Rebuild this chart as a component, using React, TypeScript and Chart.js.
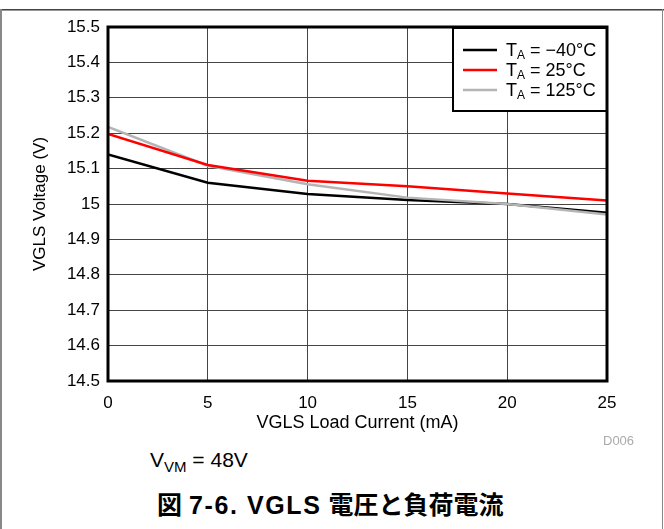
import React, { useEffect, useRef } from "react";
import { Chart, registerables } from "chart.js";

Chart.register(...registerables);

const loadCurrent = [0, 5, 10, 15, 20, 25];
const vMinus40 = [15.14, 15.06, 15.028, 15.011, 15.0, 14.975];
const v25 = [15.198, 15.11, 15.066, 15.05, 15.03, 15.01];
const v125 = [15.218, 15.108, 15.056, 15.018, 15.0, 14.97];
const seriesLabels = ["= \u221240\u00B0C", "= 25\u00B0C", "= 125\u00B0C"];
const seriesColors = ["#000000", "#ff0000", "#b4b4b4"];

const FONT = "'Liberation Sans', Arial, sans-serif";

const framePlugin = {
  id: "frameAndLegend",
  afterDatasetsDraw(chart: any) {
    const { ctx, chartArea } = chart;
    const { left, top, right, bottom } = chartArea;
    ctx.save();
    // legend box
    const bx = 453, by = top, bw = right - 453, bh = 84;
    ctx.fillStyle = "#ffffff";
    ctx.fillRect(bx, by, bw, bh);
    ctx.strokeStyle = "#000";
    ctx.lineWidth = 2;
    ctx.strokeRect(bx, by + 1, bw, bh - 1);
    const rows = [50, 70, 90];
    rows.forEach((ry, i) => {
      ctx.strokeStyle = seriesColors[i];
      ctx.lineWidth = 2.5;
      ctx.beginPath();
      ctx.moveTo(463, ry);
      ctx.lineTo(497, ry);
      ctx.stroke();
      ctx.fillStyle = "#000";
      ctx.textBaseline = "alphabetic";
      ctx.textAlign = "left";
      ctx.font = `18px ${FONT}`;
      ctx.fillText("T", 506, ry + 6);
      const tw = ctx.measureText("T").width;
      ctx.font = `12px ${FONT}`;
      ctx.fillText("A", 506 + tw, ry + 9);
      const aw = ctx.measureText("A").width;
      ctx.font = `18px ${FONT}`;
      ctx.fillText(" " + seriesLabels[i], 506 + tw + aw, ry + 6);
    });
    // plot frame
    ctx.strokeStyle = "#000";
    ctx.lineWidth = 3;
    ctx.strokeRect(left, top, right - left, bottom - top);
    ctx.restore();
  },
};

export default function App() {
  const canvasRef = useRef<HTMLCanvasElement | null>(null);

  useEffect(() => {
    const canvas = canvasRef.current;
    if (!canvas) return;
    const mk = (label: string, data: number[], color: string, order: number) => ({
      label,
      data: loadCurrent.map((x, i) => ({ x, y: data[i] })),
      borderColor: color,
      backgroundColor: color,
      borderWidth: 2.5,
      pointRadius: 0,
      tension: 0,
      order,
    });
    const chart = new Chart(canvas, {
      type: "line",
      data: {
        datasets: [
          mk("TA = -40°C", vMinus40, seriesColors[0], 2),
          mk("TA = 25°C", v25, seriesColors[1], 0),
          mk("TA = 125°C", v125, seriesColors[2], 1),
        ],
      },
      options: {
        animation: false,
        responsive: false,
        maintainAspectRatio: false,
        devicePixelRatio: 1,
        layout: { padding: { left: 0, top: 27, right: 57, bottom: 0 } },
        plugins: { legend: { display: false }, tooltip: { enabled: false } },
        scales: {
          x: {
            type: "linear",
            min: 0,
            max: 25,
            afterFit: (s: any) => {
              s.height = 59;
            },
            ticks: {
              stepSize: 5,
              color: "#000",
              padding: 12,
              maxRotation: 0,
              font: { family: FONT, size: 17 },
            },
            grid: { color: "#444", lineWidth: 1, drawTicks: false },
            border: { display: false },
            title: {
              display: true,
              text: "VGLS Load Current (mA)",
              color: "#000",
              font: { family: FONT, size: 18, lineHeight: 1 },
              padding: { top: 0, bottom: 8 },
            },
          },
          y: {
            type: "linear",
            min: 14.5,
            max: 15.5,
            afterFit: (s: any) => {
              s.width = 108;
            },
            ticks: {
              stepSize: 0.1,
              color: "#000",
              padding: 8,
              font: { family: FONT, size: 17 },
              callback: (v: any) => {
                const n = Math.round(Number(v) * 10) / 10;
                return String(n);
              },
            },
            grid: { color: "#444", lineWidth: 1, drawTicks: false },
            border: { display: false },
            title: {
              display: true,
              text: "VGLS Voltage (V)",
              color: "#000",
              font: { family: FONT, size: 17, lineHeight: 1 },
              padding: { top: 32, bottom: 0 },
            },
          },
        },
      },
      plugins: [framePlugin],
    });
    return () => chart.destroy();
  }, []);

  return (
    <div
      style={{
        position: "absolute",
        left: 0,
        top: 0,
        width: 664,
        height: 529,
        background: "#fff",
        overflow: "hidden",
        fontFamily: FONT,
      }}
    >
      <div style={{ position: "absolute", left: 0, top: 9, width: 664, height: 1, background: "#444" }} />
      <div style={{ position: "absolute", left: 0, top: 10, width: 664, height: 1, background: "#999" }} />
      <div style={{ position: "absolute", left: 0, top: 9, width: 2, height: 520, background: "#888" }} />
      <div style={{ position: "absolute", left: 662, top: 9, width: 1, height: 520, background: "#888" }} />
      <canvas
        ref={canvasRef}
        width={664}
        height={440}
        style={{ position: "absolute", left: 0, top: 0, width: 664, height: 440 }}
      />
      <div
        style={{
          position: "absolute",
          left: 603,
          top: 434,
          fontSize: 13,
          color: "#aaa",
          lineHeight: "14px",
        }}
      >
        D006
      </div>
      <div
        style={{
          position: "absolute",
          left: 150,
          top: 448,
          fontSize: 21,
          color: "#000",
          lineHeight: "24px",
          whiteSpace: "nowrap",
        }}
      >
        V<sub style={{ fontSize: 15, verticalAlign: "-5px", lineHeight: 0 }}>VM</sub> = 48V
      </div>
      <div
        style={{
          position: "absolute",
          left: 157,
          top: 490,
          fontSize: 25,
          fontWeight: "bold",
          lineHeight: "30px",
          color: "#000",
          fontFamily: "'Liberation Sans', 'Noto Sans CJK JP', sans-serif",
          whiteSpace: "nowrap",
        }}
      >
        図 <span style={{ letterSpacing: "1.6px" }}>7-6. VGLS</span> 電圧と負荷電流
      </div>
    </div>
  );
}
